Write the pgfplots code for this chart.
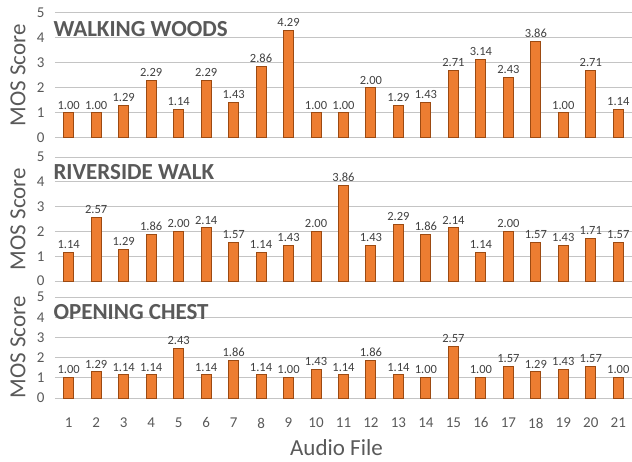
\documentclass[border=0pt]{standalone}
\usepackage{pgfplots}
\pgfplotsset{compat=1.18}
\usepackage{fontspec}
\setmainfont{Carlito}
\definecolor{barfill}{HTML}{ED7D31}
\definecolor{baredge}{HTML}{9C4A12}
\definecolor{txtgray}{HTML}{595959}
\definecolor{lblgray}{HTML}{404040}
\definecolor{gridgray}{HTML}{C4C4C4}
\pgfplotsset{
  panel/.style={
    scale only axis,
    width=577pt,
    xmin=0.5, xmax=21.5,
    ymin=0, ymax=5,
    ytick={0,1,2,3,4,5},
    xtick={1,...,21},
    ymajorgrids,
    grid style={gridgray, line width=1pt},
    axis line style={draw=none},
    tick style={draw=none},
    clip=false,
    ybar,
    bar width=10pt,
    /pgf/number format/assume math mode=true,
    yticklabel style={font=\fontsize{15}{15}\selectfont, text=txtgray, xshift=-7pt},
    xticklabel style={font=\fontsize{15}{15}\selectfont, text=txtgray, yshift=-12pt},
    ylabel={MOS Score},
    every axis y label/.style={at={(rel axis cs:0,0.5)}, xshift=-37pt, rotate=90, anchor=center,
      font=\fontsize{23}{23}\selectfont, text=txtgray},
    nodes near coords,
    nodes near coords style={font=\fontsize{12.5}{12.5}\selectfont, text=lblgray,
      /pgf/number format/.cd, fixed, fixed zerofill, precision=2, assume math mode=true},
  },
  barstyle/.style={fill=barfill, draw=baredge, line width=1pt},
}
\newcommand{\paneltitle}[2]{\node[anchor=west, inner sep=0pt, font=\fontsize{23}{23}\selectfont\bfseries, text=txtgray] at (axis cs:0.44,#2) {#1};}
\begin{document}
\begin{tikzpicture}[x=1pt,y=1pt]
\useasboundingbox (0,0) rectangle (632,461);
% Panel 1
\begin{axis}[panel, height=125pt, at={(55pt,323pt)}, anchor=south west, xticklabels={}]
\addplot[barstyle] coordinates {(1,1.00)(2,1.00)(3,1.29)(4,2.29)(5,1.14)(6,2.29)(7,1.43)(8,2.86)(9,4.29)(10,1.00)(11,1.00)(12,2.00)(13,1.29)(14,1.43)(15,2.71)(16,3.14)(17,2.43)(18,3.86)(19,1.00)(20,2.71)(21,1.14)};
\paneltitle{WALKING WOODS}{4.36}
\end{axis}
% Panel 2
\begin{axis}[panel, height=124pt, at={(55pt,180pt)}, anchor=south west, xticklabels={}]
\addplot[barstyle] coordinates {(1,1.14)(2,2.57)(3,1.29)(4,1.86)(5,2.00)(6,2.14)(7,1.57)(8,1.14)(9,1.43)(10,2.00)(11,3.86)(12,1.43)(13,2.29)(14,1.86)(15,2.14)(16,1.14)(17,2.00)(18,1.57)(19,1.43)(20,1.71)(21,1.57)};
\paneltitle{RIVERSIDE WALK}{4.4}
\end{axis}
% Panel 3
\begin{axis}[panel, height=101pt, at={(55pt,63pt)}, anchor=south west,
  xlabel={Audio File},
  every axis x label/.style={at={(rel axis cs:0.5,0)}, anchor=center, yshift=-50pt, xshift=-7pt,
    font=\fontsize{23}{23}\selectfont, text=txtgray}]
\addplot[barstyle] coordinates {(1,1.00)(2,1.29)(3,1.14)(4,1.14)(5,2.43)(6,1.14)(7,1.86)(8,1.14)(9,1.00)(10,1.43)(11,1.14)(12,1.86)(13,1.14)(14,1.00)(15,2.57)(16,1.00)(17,1.57)(18,1.29)(19,1.43)(20,1.57)(21,1.00)};
\paneltitle{OPENING CHEST}{4.26}
\end{axis}
\end{tikzpicture}
\end{document}
